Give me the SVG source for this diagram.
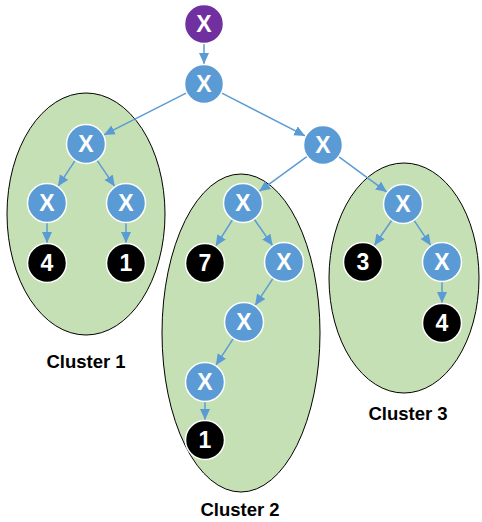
<svg xmlns="http://www.w3.org/2000/svg" width="482" height="522" viewBox="0 0 482 522">
<style>
.cl{fill:#C5E0B4;stroke:#000;stroke-width:1}
.e{stroke:#5B9BD5;stroke-width:1.5;fill:none;marker-end:url(#ah)}
.x{fill:#5B9BD5;stroke:#fff;stroke-width:1.5}
.b{fill:#000;stroke:#fff;stroke-width:1.5}
.p{fill:#7030A0;stroke:#fff;stroke-width:1.5}
.t{fill:#fff;font-family:"Liberation Sans",Arial,sans-serif;font-weight:bold;font-size:23px;text-anchor:middle}
.lb{fill:#000;font-family:"Liberation Sans",Arial,sans-serif;font-weight:bold;font-size:18.5px;text-anchor:middle}
</style>
<defs>
<marker id="ah" markerUnits="userSpaceOnUse" markerWidth="12" markerHeight="11" refX="11" refY="5" orient="auto">
<path d="M0,0 L11,5 L0,10 z" fill="#5B9BD5"/>
</marker>
</defs>
<rect width="482" height="522" fill="#fff"/>
<g id="cluster1"><ellipse class="cl" cx="86" cy="214" rx="79" ry="121"/><text class="lb" x="86" y="368">Cluster 1</text></g>
<g id="cluster2"><ellipse class="cl" cx="241" cy="333" rx="79" ry="159"/><text class="lb" x="240" y="516">Cluster 2</text></g>
<g id="cluster3"><ellipse class="cl" cx="404" cy="278" rx="75" ry="115"/><text class="lb" x="408" y="420">Cluster 3</text></g>
<g id="connectors">
<line class="e" x1="204" y1="43.5" x2="204" y2="64"/>
<line class="e" x1="186.6" y1="92.8" x2="103.8" y2="134.9"/>
<line class="e" x1="221.4" y1="92.9" x2="305.2" y2="135.9"/>
<line class="e" x1="75.2" y1="160.3" x2="58" y2="186.3"/>
<line class="e" x1="96.9" y1="160.1" x2="114.8" y2="186.4"/>
<line class="e" x1="47" y1="222.5" x2="47" y2="243"/>
<line class="e" x1="126" y1="222.5" x2="126" y2="243"/>
<line class="e" x1="307.2" y1="156.4" x2="259.2" y2="191.3"/>
<line class="e" x1="338.7" y1="156.6" x2="386.9" y2="192.1"/>
<line class="e" x1="232.6" y1="219.5" x2="215.7" y2="246.1"/>
<line class="e" x1="254.1" y1="219" x2="272.6" y2="245.6"/>
<line class="e" x1="273.2" y1="278.2" x2="255.1" y2="305.4"/>
<line class="e" x1="233.4" y1="338.3" x2="215.9" y2="365.2"/>
<line class="e" x1="205" y1="401.5" x2="205" y2="420"/>
<line class="e" x1="391.9" y1="220" x2="374.3" y2="245.5"/>
<line class="e" x1="413.9" y1="220.2" x2="430.8" y2="245.4"/>
<line class="e" x1="442" y1="281.5" x2="442" y2="303"/>
</g>
<g id="n0"><circle class="p" cx="204" cy="24" r="19.5"/><text class="t" x="204" y="32">X</text></g>
<g id="n1"><circle class="x" cx="204" cy="84" r="19.5"/><text class="t" x="204" y="92">X</text></g>
<g id="n2"><circle class="x" cx="86" cy="144" r="19.5"/><text class="t" x="86" y="152">X</text></g>
<g id="n3"><circle class="x" cx="47" cy="203" r="19.5"/><text class="t" x="47" y="211">X</text></g>
<g id="n4"><circle class="x" cx="126" cy="203" r="19.5"/><text class="t" x="126" y="211">X</text></g>
<g id="n5"><circle class="b" cx="47" cy="263" r="19.5"/><text class="t" x="47" y="271">4</text></g>
<g id="n6"><circle class="b" cx="126" cy="263" r="19.5"/><text class="t" x="126" y="271">1</text></g>
<g id="n7"><circle class="x" cx="323" cy="145" r="19.5"/><text class="t" x="323" y="153">X</text></g>
<g id="n8"><circle class="x" cx="243" cy="203" r="19.5"/><text class="t" x="243" y="211">X</text></g>
<g id="n9"><circle class="b" cx="205" cy="263" r="19.5"/><text class="t" x="205" y="271">7</text></g>
<g id="n10"><circle class="x" cx="284" cy="262" r="19.5"/><text class="t" x="284" y="270">X</text></g>
<g id="n11"><circle class="x" cx="244" cy="322" r="19.5"/><text class="t" x="244" y="330">X</text></g>
<g id="n12"><circle class="x" cx="205" cy="382" r="19.5"/><text class="t" x="205" y="390">X</text></g>
<g id="n13"><circle class="b" cx="205" cy="440" r="19.5"/><text class="t" x="205" y="448">1</text></g>
<g id="n14"><circle class="x" cx="403" cy="204" r="19.5"/><text class="t" x="403" y="212">X</text></g>
<g id="n15"><circle class="b" cx="363" cy="262" r="19.5"/><text class="t" x="363" y="270">3</text></g>
<g id="n16"><circle class="x" cx="442" cy="262" r="19.5"/><text class="t" x="442" y="270">X</text></g>
<g id="n17"><circle class="b" cx="442" cy="323" r="19.5"/><text class="t" x="442" y="331">4</text></g>
</svg>
